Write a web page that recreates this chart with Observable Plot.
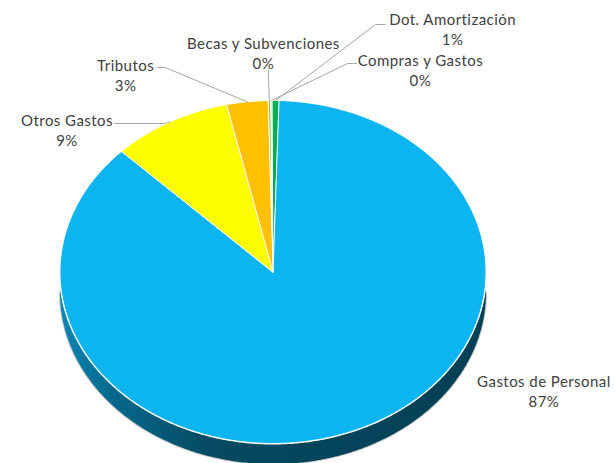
<!DOCTYPE html>
<html><head><meta charset="utf-8">
<script src="https://cdn.jsdelivr.net/npm/d3@7"></script>
<script src="https://cdn.jsdelivr.net/npm/@observablehq/plot@0.6"></script>
<style>body{margin:0;background:#fff;} .lbl text{letter-spacing:0.45px;}</style>
</head><body><div id="chart"></div>
<script>
// ---- data ----
const categories = ["Becas y Subvenciones", "Compras y Gastos", "Dot. Amortización", "Gastos de Personal", "Otros Gastos", "Tributos"];
const values = [0.22, 0.10, 0.52, 86.95, 9.10, 3.11];
const colors = ["#8fc75a", "#c6e2ad", "#00b050", "#0cb4f0", "#ffff00", "#ffc000"];

// ---- label layout (pie units, radius = 1) ----
const labelX = [-0.045, 0.692, 0.843, 1.272, -0.967, -0.692];
const labelY = [1.280, 1.181, 1.420, -0.691, 0.828, 1.152];
const leaderPath = [
  [[-0.022, 1.175]],
  [[0.392, 1.216], [0.350, 1.216]],
  [[0.528, 1.443], [0.481, 1.443]],
  [],
  [[-0.744, 0.866], [-0.505, 0.866]],
  [[-0.542, 1.192], [-0.505, 1.192]]
];
const startDeg = -1.4;
const depth = 0.12;

// ---- geometry from data ----
const a0 = startDeg * Math.PI / 180;
const arcs = d3.pie().sort(null).value(d => d).startAngle(a0).endAngle(a0 + 2 * Math.PI)(values);
const total = d3.sum(values);
const step = Math.PI / 360;
function arcPts(a, b) {
  const n = Math.max(1, Math.ceil((b - a) / step));
  return d3.range(n + 1).map(k => a + (b - a) * k / n);
}
const topPts = [];
const sidePts = [];
arcs.forEach((arc, i) => {
  const cat = categories[i];
  topPts.push({cat, x: 0, y: 0});
  for (const t of arcPts(arc.startAngle, arc.endAngle)) topPts.push({cat, x: Math.sin(t), y: Math.cos(t)});
  const lo = Math.max(arc.startAngle, Math.PI / 2), hi = Math.min(arc.endAngle, 3 * Math.PI / 2);
  if (hi > lo) {
    const ts = arcPts(lo, hi);
    for (const t of ts) sidePts.push({cat, i, x: Math.sin(t), y: Math.cos(t)});
    for (const t of ts.slice().reverse()) sidePts.push({cat, i, x: Math.sin(t), y: Math.cos(t) - depth});
  }
});
const rimPts = arcPts(0, 2 * Math.PI).map(t => ({x: Math.sin(t), y: Math.cos(t)}));
const bottomRim = arcPts(Math.PI / 2, 3 * Math.PI / 2).map(t => ({x: Math.sin(t), y: Math.cos(t) - depth}));

const labels = arcs.map((arc, i) => ({
  cat: categories[i], x: labelX[i], y: labelY[i],
  text: categories[i] + "\n" + d3.format(".0%")(values[i] / total)
}));
const leaders = [];
arcs.forEach((arc, i) => {
  if (!leaderPath[i].length) return;
  const m = (arc.startAngle + arc.endAngle) / 2;
  for (const [x, y] of leaderPath[i]) leaders.push({cat: categories[i], x, y});
  leaders.push({cat: categories[i], x: Math.sin(m), y: Math.cos(m)});
});

const chart = Plot.plot({
  width: 615, height: 463, margin: 0,
  x: {domain: [-1, 1], range: [59.5, 485.5], axis: null},
  y: {domain: [-1, 1], range: [443, 100], axis: null},
  color: {domain: categories, range: colors},
  style: {background: "#fff"},
  marks: [
    Plot.line(bottomRim, {x: "x", y: "y", stroke: "#c8c8c8", strokeWidth: 2, curve: "linear"}),
    Plot.line(sidePts, {x: "x", y: "y", z: "cat", fill: d => "url(#side-" + d.i + ")", stroke: "none", curve: "linear-closed"}),
    Plot.line(rimPts, {x: "x", y: "y", stroke: "#ffffff", strokeWidth: 2, curve: "linear-closed"}),
    Plot.line(topPts, {x: "x", y: "y", z: "cat", fill: "cat", stroke: "#ffffff", strokeWidth: 1, strokeLinejoin: "round", curve: "linear-closed"}),
    Plot.line(leaders, {x: "x", y: "y", z: "cat", stroke: "#a6a6a6", strokeWidth: 1}),
    Plot.text(labels, {x: "x", y: "y", text: "text", fill: "#404040", fontSize: 15, lineHeight: 1.33, fontFamily: "Lato, 'Open Sans', sans-serif", className: "lbl"})
  ]
});

// side gradients (darker shades of each visible slice colour)
const defs = d3.select(chart).insert("defs", ":first-child");
arcs.forEach((arc, i) => {
  const base = d3.color(colors[i]);
  const g = defs.append("linearGradient").attr("id", "side-" + i)
    .attr("gradientUnits", "userSpaceOnUse").attr("x1", 59).attr("x2", 486).attr("y1", 0).attr("y2", 0);
  [[0, 0.8], [0.12, 1.5], [0.35, 2.5], [0.6, 2.7], [1, 2.9]].forEach(([o, k]) =>
    g.append("stop").attr("offset", o).attr("stop-color", base.darker(k).formatHex()));
});

document.getElementById("chart").append(chart);
</script>
</body></html>
